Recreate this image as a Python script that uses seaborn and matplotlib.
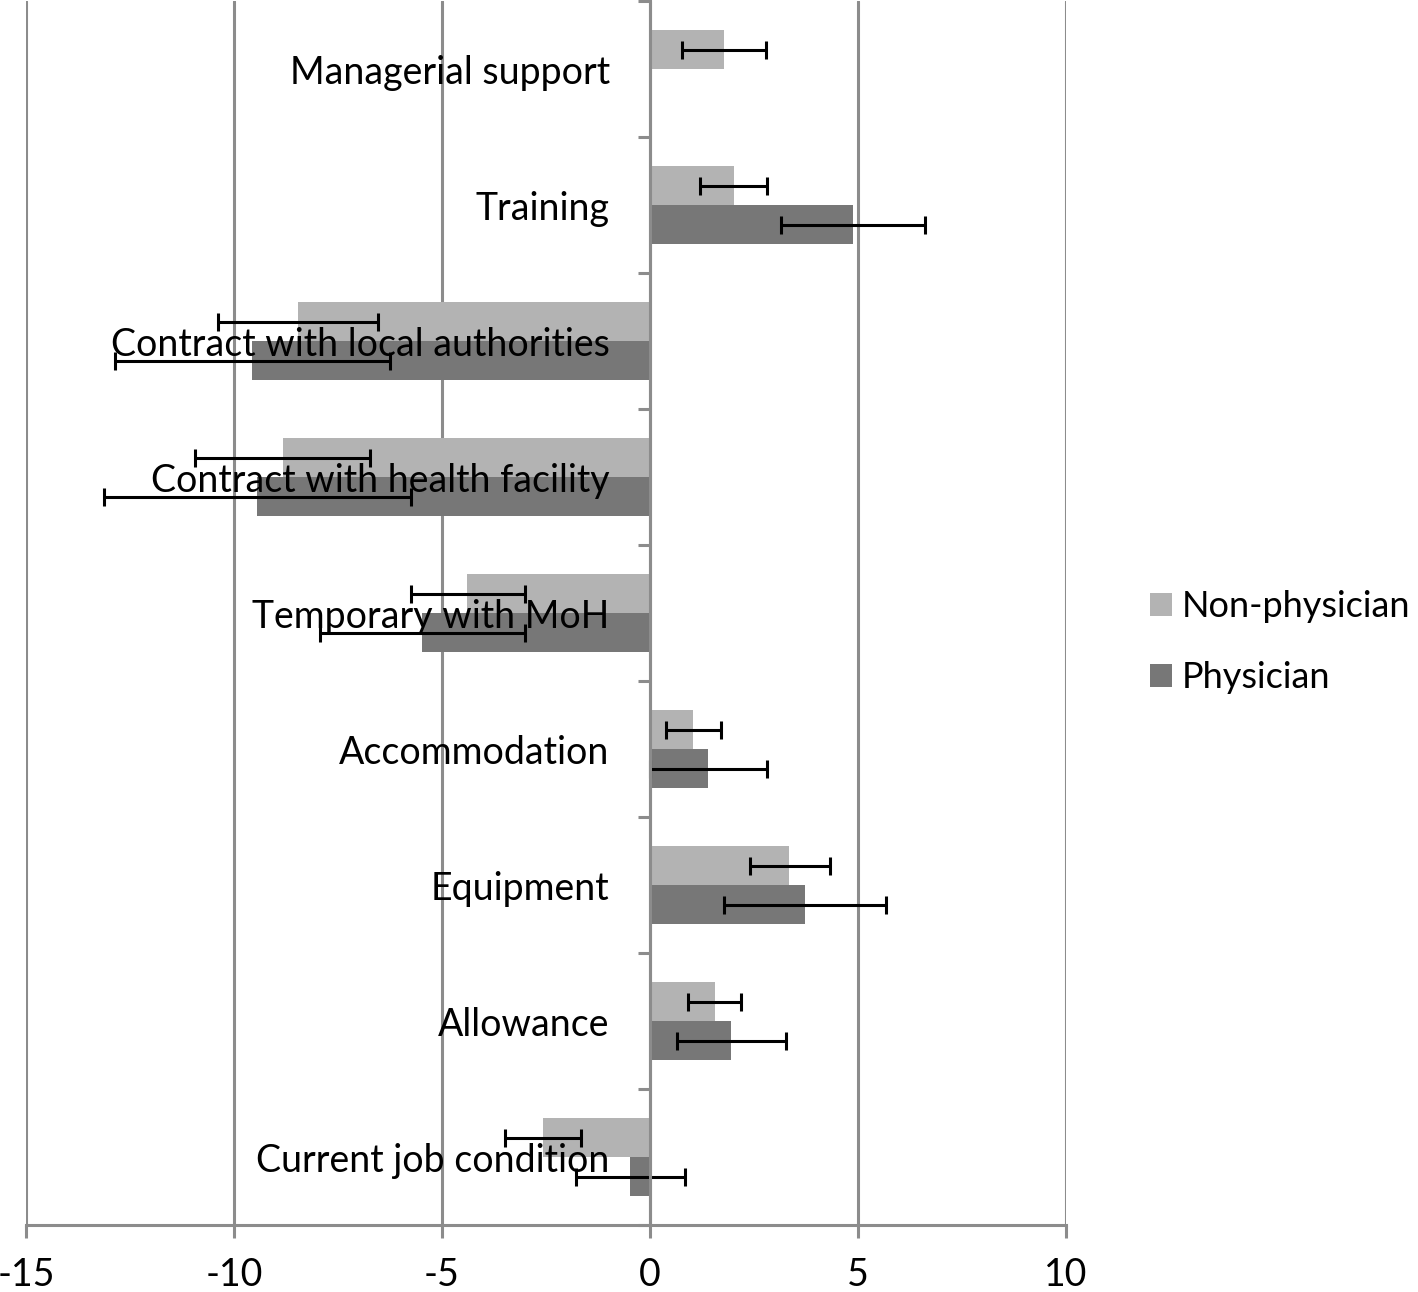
import numpy as np
import pandas as pd
import seaborn as sns
import matplotlib
matplotlib.use("Agg")
import matplotlib.pyplot as plt
from matplotlib.ticker import FixedLocator

sns.set_style("white")
plt.rcParams["font.family"] = ["Lato", "DejaVu Sans"]
plt.rcParams["text.color"] = "black"
plt.rcParams["xtick.labelcolor"] = "black"
plt.rcParams["ytick.labelcolor"] = "black"

categories = ["Managerial support", "Training", "Contract with local authorities",
              "Contract with health facility", "Temporary with MoH", "Accommodation",
              "Equipment", "Allowance", "Current job condition"]
groups = ["Non-physician", "Physician"]

nonphys = [1.78, 2.03, -8.47, -8.83, -4.39, 1.04, 3.35, 1.57, -2.58]
nonphys_lo = [0.78, 1.21, -10.39, -10.94, -5.75, 0.39, 2.41, 0.92, -3.49]
nonphys_hi = [2.80, 2.82, -6.54, -6.74, -3.01, 1.71, 4.33, 2.19, -1.65]

phys = [np.nan, 4.88, -9.57, -9.45, -5.47, 1.40, 3.73, 1.95, -0.47]
phys_lo = [np.nan, 3.16, -12.86, -13.13, -7.94, 0.00, 1.79, 0.66, -1.77]
phys_hi = [np.nan, 6.61, -6.26, -5.75, -3.01, 2.82, 5.68, 3.28, 0.83]

xticks = [-15, -10, -5, 0, 5, 10]
colors = ["#b3b3b3", "#777777"]

df = pd.DataFrame({
    "category": categories * 2,
    "group": [groups[0]] * len(categories) + [groups[1]] * len(categories),
    "value": nonphys + phys,
})

fs = 27
grey = "#8c8c8c"
bar_w = 0.574

fig = plt.figure(figsize=(14.18, 12.92), dpi=100)
ax = fig.add_axes([26 / 1418, 1 - 1225 / 1292, (1066 - 26) / 1418, 1225 / 1292 - 0.001])

sns.barplot(data=df, x="value", y="category", hue="group", order=categories,
            hue_order=groups, palette=colors, orient="h", errorbar=None,
            width=bar_w, saturation=1, linewidth=0, ax=ax, zorder=2)

# asymmetric error bars
idx = np.arange(len(categories))
for k, (v, lo, hi) in enumerate([(nonphys, nonphys_lo, nonphys_hi),
                                  (phys, phys_lo, phys_hi)]):
    v, lo, hi = np.array(v), np.array(lo), np.array(hi)
    off = (k - 0.5) * bar_w / 2
    ax.errorbar(v, idx + off, xerr=[v - lo, hi - v], fmt="none", ecolor="black",
                elinewidth=2.2, capsize=6.5, capthick=2.2, zorder=4)

ax.set_xlim(-15, 10)
ax.set_ylim(len(categories) - 0.5, -0.5)
ax.set_xticks(xticks)
ax.set_xticklabels([str(t) for t in xticks], fontsize=fs)
ax.xaxis.grid(True, color=grey, linewidth=2.2)
ax.set_axisbelow(True)
ax.yaxis.set_zorder(6)

ax.spines["top"].set_visible(False)
ax.spines["right"].set_visible(False)
ax.spines["left"].set_position(("data", 0))
for s in ["left", "bottom"]:
    ax.spines[s].set_color(grey)
    ax.spines[s].set_linewidth(2.2)
    ax.spines[s].set_zorder(5)

ax.set_yticks(idx)
ax.set_yticklabels(categories, fontsize=fs)
ax.yaxis.set_minor_locator(FixedLocator(np.arange(-0.5, len(categories), 1.0)))
ax.tick_params(axis="y", which="major", length=0, pad=29)
ax.tick_params(axis="y", which="minor", length=9, width=2.2, color=grey, direction="out", left=True)
ax.tick_params(axis="x", which="major", length=9, width=2.2, color=grey, direction="out", pad=14, bottom=True)
ax.set_xlabel("")
ax.set_ylabel("")

handles, labels = ax.get_legend_handles_labels()
ax.get_legend().remove()
fig.legend(handles, labels, loc="center left", bbox_to_anchor=(1150 / 1418, 0.503),
           frameon=False, fontsize=26, handlelength=0.61, handleheight=0.61,
           handletextpad=0.27, labelspacing=1.05, borderaxespad=0, borderpad=0)

fig.savefig("out.png", dpi=100)
